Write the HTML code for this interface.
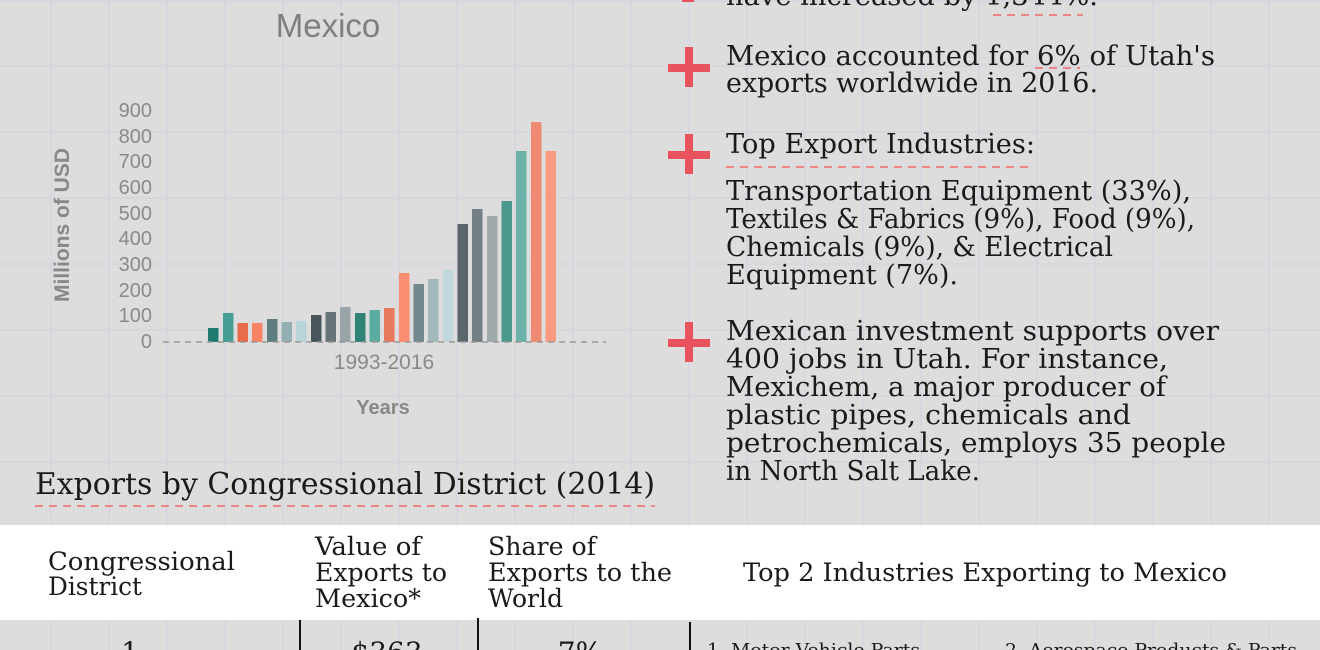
<!DOCTYPE html>
<html><head><meta charset="utf-8"><style>
html,body{margin:0;padding:0;background:#dddddd;}
svg{display:block}
</style></head><body>
<svg width="1320" height="650" viewBox="0 0 1320 650" xmlns="http://www.w3.org/2000/svg">
<rect width="1320" height="650" fill="#dddddd"/>
<g stroke="#d6d4e0" stroke-width="1.5">
<line x1="51" y1="0" x2="51" y2="650"/><line x1="109" y1="0" x2="109" y2="650"/><line x1="167" y1="0" x2="167" y2="650"/><line x1="225" y1="0" x2="225" y2="650"/><line x1="283" y1="0" x2="283" y2="650"/><line x1="341" y1="0" x2="341" y2="650"/><line x1="399" y1="0" x2="399" y2="650"/><line x1="457" y1="0" x2="457" y2="650"/><line x1="515" y1="0" x2="515" y2="650"/><line x1="573" y1="0" x2="573" y2="650"/><line x1="631" y1="0" x2="631" y2="650"/><line x1="689" y1="0" x2="689" y2="650"/><line x1="747" y1="0" x2="747" y2="650"/><line x1="805" y1="0" x2="805" y2="650"/><line x1="863" y1="0" x2="863" y2="650"/><line x1="921" y1="0" x2="921" y2="650"/><line x1="979" y1="0" x2="979" y2="650"/><line x1="1037" y1="0" x2="1037" y2="650"/><line x1="1095" y1="0" x2="1095" y2="650"/><line x1="1153" y1="0" x2="1153" y2="650"/><line x1="1211" y1="0" x2="1211" y2="650"/><line x1="1269" y1="0" x2="1269" y2="650"/>
<line x1="0" y1="1" x2="1320" y2="1"/><line x1="0" y1="66" x2="1320" y2="66"/><line x1="0" y1="132" x2="1320" y2="132"/><line x1="0" y1="198" x2="1320" y2="198"/><line x1="0" y1="264" x2="1320" y2="264"/><line x1="0" y1="330" x2="1320" y2="330"/><line x1="0" y1="396" x2="1320" y2="396"/><line x1="0" y1="462" x2="1320" y2="462"/><line x1="0" y1="528" x2="1320" y2="528"/><line x1="0" y1="594" x2="1320" y2="594"/>
</g>

<!-- chart -->
<text x="328" y="37" font-family="Liberation Sans, sans-serif" font-size="33" fill="#7f7f7f" text-anchor="middle">Mexico</text>
<g font-family="Liberation Sans, sans-serif" font-size="20" fill="#8a8a8a" text-anchor="end">
<text x="152" y="117">900</text><text x="152" y="143">800</text><text x="152" y="168">700</text><text x="152" y="194">600</text><text x="152" y="220">500</text><text x="152" y="245">400</text><text x="152" y="271">300</text><text x="152" y="297">200</text><text x="152" y="322">100</text><text x="152" y="348">0</text>
</g>
<text transform="translate(69,225) rotate(-90)" font-family="Liberation Sans, sans-serif" font-size="21" font-weight="bold" fill="#888" text-anchor="middle">Millions of USD</text>
<text x="384" y="369" font-family="Liberation Sans, sans-serif" font-size="21" fill="#8a8a8a" text-anchor="middle">1993-2016</text>
<text x="383" y="414" font-family="Liberation Sans, sans-serif" font-size="20" font-weight="bold" fill="#888" text-anchor="middle">Years</text>
<g>
<rect x="208" y="328" width="10.5" height="14" fill="#207a6e"/>
<rect x="223" y="313" width="10.5" height="29" fill="#489e94"/>
<rect x="237.5" y="323" width="10.5" height="19" fill="#e86c4c"/>
<rect x="252" y="323" width="10.5" height="19" fill="#fa8366"/>
<rect x="267" y="319" width="10.5" height="23" fill="#5f7c80"/>
<rect x="281.5" y="322" width="10.5" height="20" fill="#93afb4"/>
<rect x="296" y="321" width="10.5" height="21" fill="#b7d4d8"/>
<rect x="311" y="315" width="10.5" height="27" fill="#47565a"/>
<rect x="325.5" y="312" width="10.5" height="30" fill="#687578"/>
<rect x="340" y="307" width="10.5" height="35" fill="#98a4a8"/>
<rect x="355" y="313" width="10.5" height="29" fill="#2f8477"/>
<rect x="369.5" y="310" width="10.5" height="32" fill="#5aaba0"/>
<rect x="384" y="308" width="10.5" height="34" fill="#e8785e"/>
<rect x="399" y="273" width="10.5" height="69" fill="#fa8c72"/>
<rect x="413.5" y="284" width="10.5" height="58" fill="#72888c"/>
<rect x="428" y="279" width="10.5" height="63" fill="#a2b8bc"/>
<rect x="443" y="270" width="10.5" height="72" fill="#c0d8dc"/>
<rect x="457.5" y="224" width="10.5" height="118" fill="#59676a"/>
<rect x="472" y="209" width="10.5" height="133" fill="#737f84"/>
<rect x="487" y="216" width="10.5" height="126" fill="#a0aaab"/>
<rect x="501.5" y="201" width="10.5" height="141" fill="#4c978d"/>
<rect x="516" y="151" width="10.5" height="191" fill="#6cb2a9"/>
<rect x="531" y="122" width="10.5" height="220" fill="#ee8a72"/>
<rect x="545.5" y="151" width="10.5" height="191" fill="#f99a82"/>
</g>
<line x1="163" y1="342" x2="606" y2="342" stroke="#999" stroke-width="1.5" stroke-dasharray="6,5"/>

<!-- right bullets -->
<g fill="#e8535e">
<rect x="668" y="64" width="42" height="8"/><rect x="685" y="47" width="8" height="40"/>
<rect x="668" y="151" width="42" height="8"/><rect x="685" y="134" width="8" height="40"/>
<rect x="668" y="339" width="42" height="8"/><rect x="685" y="322" width="8" height="40"/>
<rect x="682" y="0" width="12" height="2"/>
</g>
<g font-family="DejaVu Serif, Liberation Serif, serif" font-size="27" fill="#1a1a1a">
<text x="726" y="5" textLength="372" lengthAdjust="spacingAndGlyphs">have increased by 1,344%.</text>
<text x="726" y="65" textLength="489" lengthAdjust="spacingAndGlyphs">Mexico accounted for 6% of Utah's</text>
<text x="726" y="92" textLength="372" lengthAdjust="spacingAndGlyphs">exports worldwide in 2016.</text>
<text x="726" y="153" textLength="309" lengthAdjust="spacingAndGlyphs">Top Export Industries:</text>
<text x="726" y="200" textLength="465" lengthAdjust="spacingAndGlyphs">Transportation Equipment (33%),</text>
<text x="726" y="228" textLength="469" lengthAdjust="spacingAndGlyphs">Textiles &amp; Fabrics (9%), Food (9%),</text>
<text x="726" y="256" textLength="387" lengthAdjust="spacingAndGlyphs">Chemicals (9%), &amp; Electrical</text>
<text x="726" y="284" textLength="232" lengthAdjust="spacingAndGlyphs">Equipment (7%).</text>
<text x="726" y="340" textLength="493" lengthAdjust="spacingAndGlyphs">Mexican investment supports over</text>
<text x="726" y="368" textLength="442" lengthAdjust="spacingAndGlyphs">400 jobs in Utah. For instance,</text>
<text x="726" y="396" textLength="440" lengthAdjust="spacingAndGlyphs">Mexichem, a major producer of</text>
<text x="726" y="424" textLength="405" lengthAdjust="spacingAndGlyphs">plastic pipes, chemicals and</text>
<text x="726" y="452" textLength="500" lengthAdjust="spacingAndGlyphs">petrochemicals, employs 35 people</text>
<text x="726" y="480" textLength="254" lengthAdjust="spacingAndGlyphs">in North Salt Lake.</text>
<text x="35" y="494" textLength="620" lengthAdjust="spacingAndGlyphs" font-size="30">Exports by Congressional District (2014)</text>
</g>
<g stroke="#f06a6a" stroke-width="1.5" stroke-dasharray="8,6">
<line x1="993" y1="15" x2="1083" y2="15"/>
<line x1="1035" y1="68" x2="1080" y2="68"/>
<line x1="726" y1="167" x2="1030" y2="167"/>
<line x1="35" y1="506" x2="655" y2="506"/>
</g>

<!-- table -->
<rect x="0" y="525" width="1320" height="95" fill="#ffffff"/>
<g font-family="DejaVu Serif, Liberation Serif, serif" font-size="25" fill="#1a1a1a">
<text x="48" y="570" textLength="187" lengthAdjust="spacingAndGlyphs">Congressional</text>
<text x="48" y="595" textLength="94" lengthAdjust="spacingAndGlyphs">District</text>
<text x="315" y="555" textLength="106" lengthAdjust="spacingAndGlyphs">Value of</text>
<text x="315" y="581" textLength="132" lengthAdjust="spacingAndGlyphs">Exports to</text>
<text x="315" y="607" textLength="106" lengthAdjust="spacingAndGlyphs">Mexico*</text>
<text x="488" y="555" textLength="108" lengthAdjust="spacingAndGlyphs">Share of</text>
<text x="488" y="581" textLength="184" lengthAdjust="spacingAndGlyphs">Exports to the</text>
<text x="488" y="607" textLength="75" lengthAdjust="spacingAndGlyphs">World</text>
<text x="743" y="581" textLength="484" lengthAdjust="spacingAndGlyphs">Top 2 Industries Exporting to Mexico</text>
<text x="130" y="662" font-size="28" text-anchor="middle">1</text>
<text x="387" y="662" font-size="28" text-anchor="middle">$363</text>
<text x="580" y="662" font-size="28" text-anchor="middle">7%</text>
<text x="707" y="656" font-size="18" textLength="213" lengthAdjust="spacingAndGlyphs">1. Motor Vehicle Parts</text>
<text x="1005" y="656" font-size="18" textLength="292" lengthAdjust="spacingAndGlyphs">2. Aerospace Products &amp; Parts</text>
</g>
<g stroke="#111" stroke-width="2">
<line x1="300" y1="620" x2="300" y2="650"/>
<line x1="478" y1="618" x2="478" y2="650"/>
<line x1="690" y1="622" x2="690" y2="650"/>
</g>
</svg>
</body></html>
